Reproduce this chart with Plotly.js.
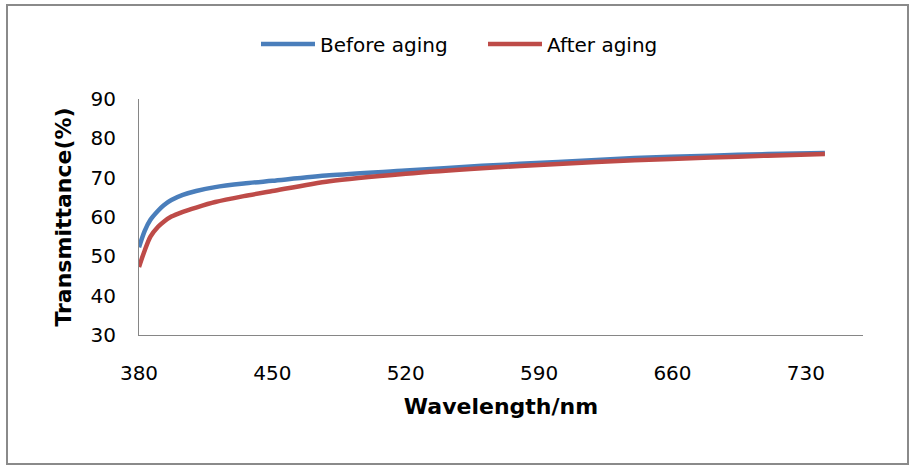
<!DOCTYPE html>
<html>
<head>
<meta charset="utf-8">
<script src="https://cdn.plot.ly/plotly-3.0.1.min.js"></script>
<style>
html,body{margin:0;padding:0;background:#fff;}
#wrap{position:relative;width:912px;height:467px;}
#chart{position:absolute;left:0;top:0;width:912px;height:467px;}
#frame{position:absolute;left:6px;top:4px;width:899px;height:457px;border:2px solid #8a8a8a;pointer-events:none;}
</style>
</head>
<body>
<div id="wrap"><div id="chart"></div><div id="frame"></div></div>
<script>
const wavelength = [380, 383, 386, 390, 393, 397, 403, 410, 420, 435, 450, 480, 520, 560, 600, 640, 680, 710, 740];
const beforeAging = [52.3, 56.5, 59.3, 61.6, 63.0, 64.3, 65.6, 66.6, 67.6, 68.5, 69.2, 70.6, 71.8, 73.0, 74.0, 75.0, 75.6, 76.0, 76.3];
const afterAging  = [47.3, 51.5, 55.0, 57.5, 58.8, 60.1, 61.3, 62.4, 63.8, 65.3, 66.6, 69.1, 71.0, 72.4, 73.5, 74.4, 75.1, 75.6, 76.0];
const xTicks = [380, 450, 520, 590, 660, 730];
const yTicks = [30, 40, 50, 60, 70, 80, 90];
const seriesNames = ['Before aging', 'After aging'];

const font = 'DejaVu Sans, Liberation Sans, sans-serif';
const traces = [
  {x: wavelength, y: beforeAging, name: seriesNames[0], type: 'scatter', mode: 'lines',
   line: {color: '#4a7ebb', width: 4.5, shape: 'spline', smoothing: 0.8}},
  {x: wavelength, y: afterAging, name: seriesNames[1], type: 'scatter', mode: 'lines',
   line: {color: '#be4b48', width: 4.5, shape: 'spline', smoothing: 0.8}}
];
const layout = {
  width: 912, height: 467,
  margin: {l: 139, r: 49, t: 99, b: 132},
  paper_bgcolor: '#ffffff', plot_bgcolor: '#ffffff',
  font: {family: font, color: '#000', size: 20},
  showlegend: true,
  legend: {orientation: 'h', xref: 'container', yref: 'container', x: 256/912, y: 1 - 44/467,
           xanchor: 'left', yanchor: 'middle', font: {family: font, size: 20, color: '#000'},
           itemwidth: 54, entrywidth: 158, entrywidthmode: 'pixels', tracegroupgap: 0, bgcolor: 'rgba(0,0,0,0)'},
  xaxis: {range: [380, 760], tickvals: xTicks, ticktext: xTicks.map(String), showgrid: false, zeroline: false,
          showline: true, linecolor: '#868686', linewidth: 1, ticks: '', ticklabelstandoff: 20,
          tickfont: {family: font, size: 20},
          title: {text: 'Wavelength/nm', font: {family: font, size: 22, weight: 'bold'}, standoff: 14}},
  yaxis: {range: [30, 90], tickvals: yTicks, showgrid: false, zeroline: false,
          showline: true, linecolor: '#868686', linewidth: 1, ticks: '', ticklabelstandoff: 18,
          tickfont: {family: font, size: 20},
          title: {text: 'Transmittance(%)', font: {family: font, size: 22, weight: 'bold'}, standoff: 12}}
};
Plotly.newPlot('chart', traces, layout, {displayModeBar: false, staticPlot: true});
</script>
</body>
</html>
